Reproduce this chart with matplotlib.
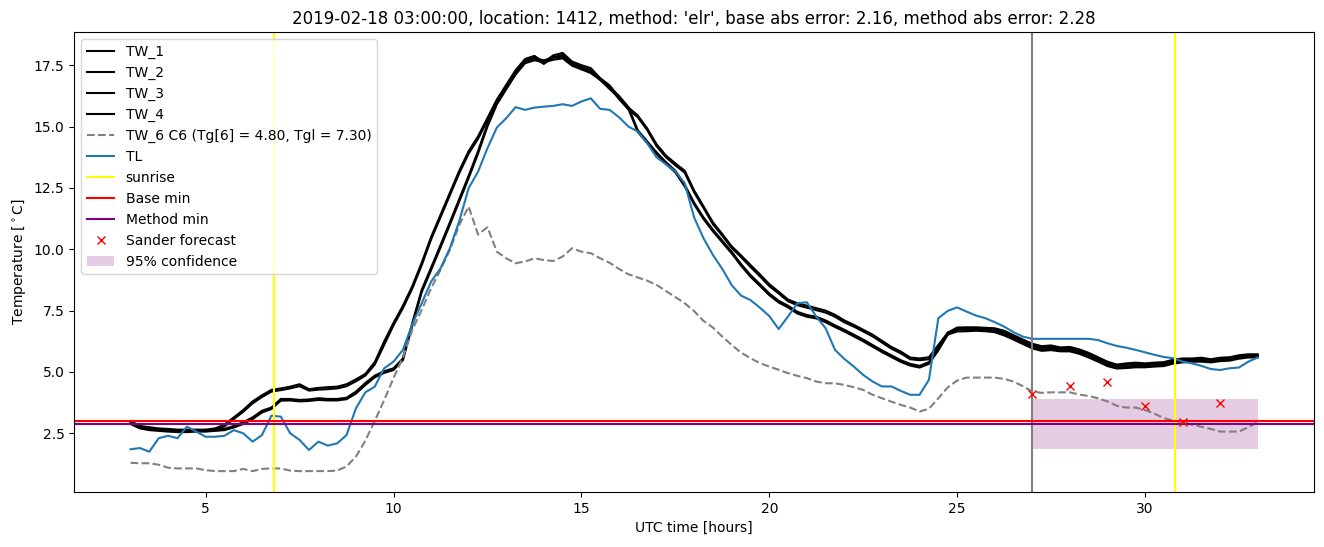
from matplotlib import pyplot as plt
import numpy as np

# UTC hours, sampled every 15 minutes from 03:00 to 33:00
hours: np.ndarray = np.arange(3, 33.01, 0.25)

tw_1 = [3.0, 2.8, 2.75, 2.7, 2.68, 2.65, 2.65, 2.65, 2.65, 2.7, 2.85, 3.15,
        3.45, 3.8, 4.05, 4.27, 4.33, 4.4, 4.5, 4.3, 4.35, 4.38, 4.4, 4.5,
        4.7, 4.92, 5.4, 6.24, 7.0, 7.7, 8.5, 9.45, 10.5, 11.4, 12.3, 13.2,
        14.0, 14.6, 15.35, 16.1, 16.7, 17.3, 17.75, 17.88, 17.62, 17.9, 18.0, 17.65,
        17.5, 17.38, 16.97, 16.68, 16.2, 15.78, 15.45, 14.93, 14.28, 13.82, 13.5, 13.2,
        12.4, 11.75, 11.1, 10.62, 10.12, 9.75, 9.36, 8.98, 8.58, 8.27, 7.95, 7.8,
        7.7, 7.6, 7.5, 7.33, 7.1, 6.92, 6.72, 6.52, 6.27, 6.02, 5.83, 5.59,
        5.55, 5.6, 6.1, 6.6, 6.81, 6.82, 6.82, 6.8, 6.78, 6.68, 6.5, 6.32,
        6.15, 6.05, 6.08, 6.0, 6.02, 5.92, 5.78, 5.6, 5.42, 5.3, 5.35, 5.38,
        5.35, 5.38, 5.4, 5.5, 5.55, 5.55, 5.58, 5.52, 5.58, 5.6, 5.68, 5.72,
        5.72]
tw_2 = [2.9, 2.72, 2.68, 2.64, 2.62, 2.6, 2.6, 2.6, 2.6, 2.64, 2.78, 3.08,
        3.38, 3.72, 3.98, 4.2, 4.26, 4.33, 4.42, 4.24, 4.28, 4.3, 4.33, 4.42,
        4.62, 4.85, 5.3, 6.1, 6.9, 7.6, 8.4, 9.35, 10.4, 11.3, 12.2, 13.1,
        13.9, 14.5, 15.25, 16.0, 16.6, 17.2, 17.68, 17.8, 17.55, 17.82, 17.92, 17.58,
        17.42, 17.3, 16.9, 16.6, 16.12, 15.7, 15.38, 14.86, 14.2, 13.75, 13.42, 13.12,
        12.32, 11.68, 11.02, 10.55, 10.05, 9.68, 9.28, 8.9, 8.5, 8.2, 7.88, 7.72,
        7.62, 7.52, 7.42, 7.25, 7.02, 6.85, 6.65, 6.45, 6.2, 5.95, 5.76, 5.52,
        5.48, 5.52, 6.0, 6.52, 6.74, 6.76, 6.76, 6.74, 6.72, 6.62, 6.44, 6.26,
        6.09, 5.99, 6.02, 5.94, 5.96, 5.86, 5.72, 5.54, 5.36, 5.24, 5.29, 5.32,
        5.3, 5.33, 5.35, 5.45, 5.5, 5.5, 5.53, 5.48, 5.54, 5.56, 5.63, 5.68,
        5.68]
tw_3 = [2.95, 2.75, 2.68, 2.65, 2.62, 2.6, 2.6, 2.62, 2.62, 2.65, 2.68, 2.8,
        2.95, 3.15, 3.42, 3.55, 3.9, 3.9, 3.86, 3.88, 3.93, 3.9, 3.9, 3.95,
        4.2, 4.55, 4.85, 5.03, 5.15, 5.55, 7.0, 8.35, 9.25, 10.17, 11.1, 12.05,
        13.0, 14.0, 15.1, 16.0, 16.6, 17.2, 17.65, 17.78, 17.7, 17.8, 17.85, 17.55,
        17.4, 17.25, 16.97, 16.6, 16.25, 15.8, 14.85, 14.4, 13.95, 13.55, 13.2, 12.63,
        11.9, 11.3, 10.8, 10.35, 9.9, 9.4, 8.95, 8.58, 8.2, 7.9, 7.7, 7.45,
        7.32, 7.25, 7.1, 6.9, 6.72, 6.52, 6.32, 6.1, 5.88, 5.68, 5.48, 5.33,
        5.25, 5.4, 5.95, 6.6, 6.72, 6.72, 6.74, 6.72, 6.68, 6.55, 6.38, 6.2,
        6.02, 5.92, 5.95, 5.9, 5.9, 5.8, 5.65, 5.48, 5.3, 5.2, 5.22, 5.25,
        5.25, 5.28, 5.3, 5.4, 5.45, 5.48, 5.48, 5.45, 5.5, 5.52, 5.6, 5.65,
        5.65]
tw_4 = [2.88, 2.7, 2.63, 2.6, 2.57, 2.55, 2.55, 2.57, 2.57, 2.6, 2.63, 2.74,
        2.88, 3.08, 3.35, 3.49, 3.83, 3.84, 3.8, 3.82, 3.86, 3.84, 3.84, 3.89,
        4.12, 4.47, 4.78, 4.96, 5.08, 5.48, 6.9, 8.25, 9.15, 10.07, 11.0, 11.95,
        12.9, 13.9, 15.0, 15.9, 16.52, 17.12, 17.58, 17.7, 17.62, 17.72, 17.78, 17.48,
        17.33, 17.18, 16.9, 16.53, 16.18, 15.72, 14.78, 14.33, 13.88, 13.48, 13.13, 12.56,
        11.83, 11.23, 10.73, 10.28, 9.83, 9.33, 8.88, 8.51, 8.13, 7.83, 7.63, 7.38,
        7.25, 7.18, 7.03, 6.83, 6.65, 6.45, 6.25, 6.03, 5.81, 5.61, 5.41, 5.26,
        5.18, 5.33, 5.88, 6.52, 6.65, 6.66, 6.68, 6.66, 6.62, 6.49, 6.32, 6.14,
        5.96, 5.86, 5.89, 5.84, 5.84, 5.74, 5.59, 5.42, 5.24, 5.14, 5.16, 5.19,
        5.19, 5.22, 5.24, 5.34, 5.39, 5.42, 5.42, 5.39, 5.44, 5.46, 5.54, 5.59,
        5.59]
tw_6 = [1.3, 1.28, 1.28, 1.22, 1.1, 1.07, 1.07, 1.07, 1.0, 0.96, 0.96, 0.96,
        1.05, 0.96, 1.05, 1.07, 1.07, 0.98, 0.96, 0.96, 0.96, 0.96, 0.98, 1.15,
        1.55, 2.2, 3.0, 3.85, 4.75, 5.6, 6.71, 7.53, 8.41, 9.16, 9.97, 10.99,
        11.74, 10.6, 10.9, 9.9, 9.63, 9.43, 9.5, 9.63, 9.56, 9.52, 9.7, 10.04,
        9.9, 9.84, 9.63, 9.45, 9.2, 8.98, 8.85, 8.72, 8.55, 8.3, 8.05, 7.8,
        7.48, 7.08, 6.81, 6.44, 6.1, 5.79, 5.56, 5.36, 5.22, 5.09, 4.95, 4.84,
        4.75, 4.61, 4.54, 4.54, 4.47, 4.38, 4.27, 4.07, 3.93, 3.79, 3.66, 3.55,
        3.39, 3.5, 3.93, 4.37, 4.65, 4.77, 4.77, 4.77, 4.77, 4.72, 4.61, 4.42,
        4.2, 4.15, 4.17, 4.17, 4.17, 4.08, 4.02, 3.93, 3.8, 3.62, 3.55, 3.55,
        3.45, 3.3, 3.12, 3.02, 2.96, 2.85, 2.77, 2.68, 2.57, 2.57, 2.57, 2.75,
        2.95]
tl = [1.85, 1.9, 1.75, 2.3, 2.4, 2.3, 2.77, 2.57, 2.36, 2.36, 2.4, 2.63,
      2.5, 2.16, 2.43, 3.22, 3.18, 2.5, 2.23, 1.82, 2.16, 2.0, 2.09, 2.43,
      3.52, 4.17, 4.4, 5.15, 5.42, 5.9, 6.95, 7.8, 8.68, 9.22, 10.04, 11.15,
      12.49, 13.16, 14.12, 14.96, 15.34, 15.79, 15.68, 15.77, 15.81, 15.84, 15.91, 15.84,
      16.02, 16.15, 15.72, 15.68, 15.38, 15.0, 14.8, 14.32, 13.75, 13.46, 13.17, 12.69,
      11.3, 10.45, 9.77, 9.2, 8.54, 8.11, 7.93, 7.62, 7.28, 6.75, 7.26, 7.8,
      7.84, 7.26, 6.78, 5.9, 5.53, 5.22, 4.88, 4.61, 4.41, 4.41, 4.23, 4.07,
      4.07, 4.68, 7.19, 7.49, 7.63, 7.46, 7.3, 7.19, 7.03, 6.85, 6.62, 6.44,
      6.35, 6.35, 6.35, 6.35, 6.35, 6.35, 6.35, 6.3, 6.17, 6.06, 5.99, 5.9,
      5.8, 5.7, 5.61, 5.56, 5.42, 5.35, 5.25, 5.12, 5.08, 5.15, 5.18, 5.42,
      5.59]

sunrise_hours = [6.81, 30.80]
forecast_start = 27.0
base_min = 2.99
method_min = 2.88

sander_hours = [27, 28, 29, 30, 31, 32]
sander_temps = [4.10, 4.44, 4.58, 3.63, 2.98, 3.75]

conf_hours = [27, 33]
conf_low = [1.86, 1.86]
conf_high = [3.90, 3.90]

title = ("2019-02-18 03:00:00, location: 1412, method: 'elr', "
         "base abs error: 2.16, method abs error: 2.28")


def main():
    fig = plt.figure(figsize=(13.24, 5.47), dpi=100)
    ax = fig.add_subplot(111)
    fig.subplots_adjust(left=0.056, right=0.9925, top=0.9415, bottom=0.1005)

    for name, values in [("TW_1", tw_1), ("TW_2", tw_2), ("TW_3", tw_3), ("TW_4", tw_4)]:
        ax.plot(hours, values, color="black", label=name)
    ax.plot(hours, tw_6, "--", color="gray",
            label="TW_6 C6 (Tg[6] = 4.80, Tgl = 7.30)")
    ax.plot(hours, tl, color="tab:blue", label="TL")

    ax.axvline(sunrise_hours[0], color="yellow", label="sunrise")
    ax.axvline(sunrise_hours[1], color="yellow")
    ax.axvline(forecast_start, color="gray")
    ax.axhline(base_min, color="red", label="Base min")
    ax.axhline(method_min, color="purple", label="Method min")

    ax.plot(sander_hours, sander_temps, "rx", label="Sander forecast")
    ax.fill_between(conf_hours, conf_low, conf_high, color="purple", alpha=0.2,
                    linewidth=0, label="95% confidence")

    ax.set_title(title)
    ax.set_xlabel("UTC time [hours]")
    ax.set_ylabel("Temperature [$^\\circ$C]")
    ax.legend(loc="upper left")

    fig.savefig("out.png")


if __name__ == "__main__":
    main()
